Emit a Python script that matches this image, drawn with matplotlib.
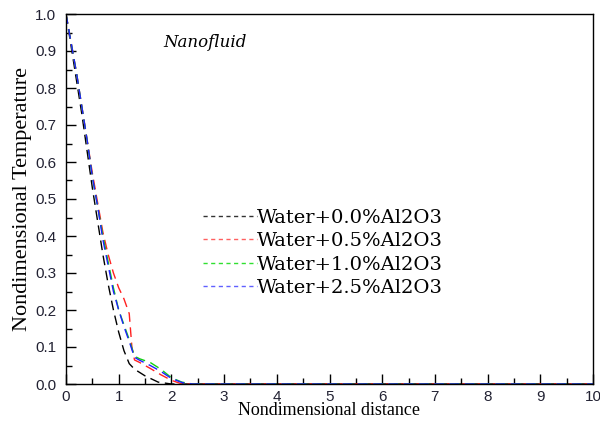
import matplotlib
matplotlib.use("Agg")
import matplotlib.pyplot as plt
from matplotlib.lines import Line2D
from matplotlib.ticker import MultipleLocator

# nondimensional distance / temperature
x_00 = [0, 0.1, 0.2, 0.3, 0.4, 0.5, 0.6, 0.7, 0.8, 0.9, 1.0, 1.1, 1.2, 1.3, 1.5, 1.75, 2.0, 10]
t_00 = [1, 0.91, 0.82, 0.73, 0.63, 0.53, 0.44, 0.35, 0.27, 0.20, 0.14, 0.09, 0.055, 0.04, 0.022, 0.005, 0, 0]

x_05 = [0, 0.1, 0.2, 0.3, 0.4, 0.5, 0.6, 0.7, 0.8, 0.9, 1.0, 1.1, 1.2, 1.25, 1.3, 1.4, 1.6, 1.8, 2.0, 2.2, 10]
t_05 = [1, 0.92, 0.84, 0.75, 0.66, 0.57, 0.49, 0.41, 0.35, 0.30, 0.26, 0.23, 0.19, 0.10, 0.065, 0.058, 0.042, 0.025, 0.01, 0, 0]

x_10 = [0, 0.1, 0.2, 0.3, 0.4, 0.5, 0.6, 0.7, 0.8, 0.9, 1.0, 1.1, 1.2, 1.3, 1.4, 1.6, 1.8, 2.0, 2.2, 2.4, 10]
t_10 = [1, 0.92, 0.84, 0.75, 0.66, 0.56, 0.48, 0.40, 0.33, 0.26, 0.20, 0.16, 0.12, 0.075, 0.068, 0.058, 0.04, 0.017, 0.005, 0, 0]

x_25 = [0, 0.1, 0.2, 0.3, 0.4, 0.5, 0.6, 0.7, 0.8, 0.9, 1.0, 1.1, 1.2, 1.3, 1.4, 1.6, 1.8, 2.0, 2.2, 2.4, 10]
t_25 = [1, 0.92, 0.84, 0.75, 0.66, 0.56, 0.48, 0.39, 0.32, 0.25, 0.20, 0.155, 0.115, 0.072, 0.064, 0.05, 0.034, 0.015, 0.004, 0, 0]

labels = ["Water+0.0%Al2O3", "Water+0.5%Al2O3", "Water+1.0%Al2O3", "Water+2.5%Al2O3"]
series = [(x_00, t_00), (x_05, t_05), (x_10, t_10), (x_25, t_25)]
colors = ["black", "#ff2020", "#10d010", "#2020ff"]
legend_colors = ["#333333", "#ff6060", "#30e030", "#6060ff"]

fig = plt.figure(figsize=(6, 4.21), dpi=100)
ax = fig.add_axes([66 / 600, 1 - 384 / 421, (593 - 66) / 600, (384 - 14) / 421])

for (x, t), c in zip(series, colors):
    ax.plot(x, t, color=c, lw=1.0, dashes=(7, 4))

ax.set_xlim(0, 10)
ax.set_ylim(0, 1.0)
ax.xaxis.set_major_locator(MultipleLocator(1))
ax.xaxis.set_minor_locator(MultipleLocator(0.5))
ax.yaxis.set_major_locator(MultipleLocator(0.1))
ax.yaxis.set_minor_locator(MultipleLocator(0.05))
ax.tick_params(which="both", direction="in", top=False, right=False,
               labelsize=11, labelcolor="#222233")
ax.tick_params(which="major", length=7, width=1)
ax.tick_params(which="minor", length=4, width=1)
ax.tick_params(axis="x", pad=4)
ax.tick_params(axis="y", pad=7)
ax.set_yticks([i / 10 for i in range(11)])
ax.set_yticklabels([f"{i / 10:.1f}" for i in range(11)], family="Liberation Sans")
ax.set_xticks(range(11))
ax.set_xticklabels([str(v) for v in range(11)], family="Liberation Sans")
for s in ax.spines.values():
    s.set_linewidth(1.0)

ax.set_xlabel("Nondimensional distance", family="Liberation Serif", fontsize=13, labelpad=-1)
ax.set_ylabel("Nondimensional Temperature", family="Liberation Serif", fontsize=16, labelpad=2)

ax.text(0.185, 0.922, "Nanofluid", transform=ax.transAxes, family="DejaVu Serif",
        style="italic", fontsize=12, va="center")

handles = [Line2D([], [], color=c, lw=1.0, dashes=(3, 2.5)) for c in legend_colors]
ax.legend(handles, labels, loc="upper left", bbox_to_anchor=(0.245, 0.495), frameon=False,
          prop={"family": "DejaVu Serif", "size": 14}, handlelength=2.8, handletextpad=0.0,
          labelspacing=0.28, borderaxespad=0)

fig.savefig("out.png", dpi=100)
